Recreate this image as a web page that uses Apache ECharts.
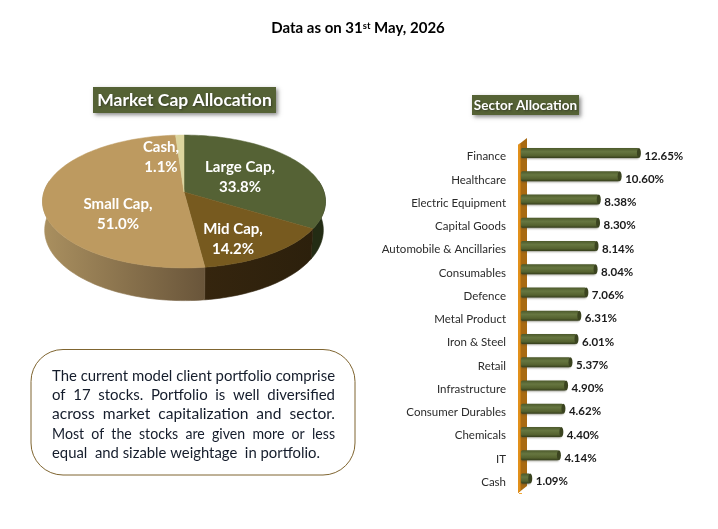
<!DOCTYPE html>
<html>
<head>
<meta charset="utf-8">
<title>Portfolio allocation</title>
<script src="https://cdn.jsdelivr.net/npm/echarts@6/dist/echarts.min.js"></script>
<style>
html,body{margin:0;padding:0;background:#fff}
#chart{width:718px;height:529px}
</style>
</head>
<body>
<div id="chart"></div>
<script>
// Market cap split
const capNames = ['Large Cap', 'Mid Cap', 'Small Cap', 'Cash'];
const capValues = [33.8, 14.2, 51.0, 1.1];

// Sector split, largest first
const sectorNames = ['Finance', 'Healthcare', 'Electric Equipment', 'Capital Goods',
  'Automobile & Ancillaries', 'Consumables', 'Defence', 'Metal Product', 'Iron & Steel',
  'Retail', 'Infrastructure', 'Consumer Durables', 'Chemicals', 'IT', 'Cash'];
const sectorValues = [12.65, 10.60, 8.38, 8.30, 8.14, 8.04, 7.06, 6.31, 6.01,
  5.37, 4.90, 4.62, 4.40, 4.14, 1.09];

// Commentary, one entry per printed line
const noteLines = [
  'The current model client portfolio comprise',
  'of  17  stocks.  Portfolio  is  well  diversified',
  'across  market  capitalization  and  sector.',
  'Most  of  the  stocks  are  given  more  or  less',
  'equal  and sizable weightage  in portfolio.'
];

const FONT = 'Lato, "Open Sans", sans-serif';

// Perspective disc used for the tilted pie
const disc = { cx: 184, cy: 192, a: 140, b: 65.1, p: 0.1429, depth: 28, shrink: 0.985 };
const TAU = Math.PI * 2;

function rimPoint(angle) {
  const u = Math.sin(angle), v = -Math.cos(angle);
  const d = 1 - disc.p * v;
  return [disc.cx + disc.a * u / d, disc.cy + disc.b * v / d];
}
function lowerRimPoint(angle) {
  const v = -Math.cos(angle);
  const top = rimPoint(angle);
  return [disc.cx + (top[0] - disc.cx) * disc.shrink, top[1] + disc.depth / (1 - disc.p * v)];
}
function sampleAngles(from, to) {
  const n = Math.max(2, Math.ceil((to - from) / 0.03));
  const out = [];
  for (let i = 0; i <= n; i++) out.push(from + (to - from) * i / n);
  return out;
}

const capTotal = capValues.reduce((s, v) => s + v, 0);
const capFill = ['#556235', '#775a1f', '#bd9a60', '#dcd59e'];
const capSide = [
  '#232c14',
  { type: 'linear', x: 205, y: 0, x2: 313, y2: 0, global: true,
    colorStops: [{ offset: 0, color: '#35250e' }, { offset: 1, color: '#2c200c' }] },
  { type: 'linear', x: 45, y: 0, x2: 205, y2: 0, global: true,
    colorStops: [{ offset: 0, color: '#a98f5f' }, { offset: 1, color: '#69553a' }] },
  '#a98f5f'
];
const capLabelAt = { 'Large Cap': [240, 177], 'Mid Cap': [233, 239], 'Small Cap': [118, 214], 'Cash': [161, 157] };

function renderSlice(params, api) {
  const i = params.dataIndex;
  let before = 0;
  for (let k = 0; k < i; k++) before += capValues[k];
  const start = before / capTotal * TAU;
  const end = (before + api.value(0)) / capTotal * TAU;
  const kids = [];

  // Wall of the disc, only the near half is ever seen
  const sFrom = Math.max(start, 80 * Math.PI / 180);
  const sTo = Math.min(end, 280 * Math.PI / 180);
  if (sTo > sFrom) {
    const angles = sampleAngles(sFrom, sTo);
    const pts = angles.map(rimPoint).concat(angles.slice().reverse().map(lowerRimPoint));
    kids.push({ type: 'polygon', shape: { points: pts },
      style: { fill: capSide[i], stroke: capSide[i], lineWidth: 0.6 } });
  }
  // Top face
  const face = [[disc.cx, disc.cy]].concat(sampleAngles(start, end).map(rimPoint));
  kids.push({ type: 'polygon', shape: { points: face },
    style: { fill: capFill[i], stroke: capFill[i], lineWidth: 0.5 } });

  const name = capNames[i];
  const at = capLabelAt[name];
  kids.push({
    type: 'text', x: at[0], y: at[1], z2: 10,
    style: {
      text: name + ',\n' + api.value(0).toFixed(1) + '%',
      fill: '#fff', font: 'bold 15px ' + FONT, lineHeight: 19.5,
      align: 'center', verticalAlign: 'middle'
    }
  });
  return { type: 'group', children: kids };
}

const barBody = {
  type: 'linear', x: 0, y: 0, x2: 0, y2: 1,
  colorStops: [
    { offset: 0, color: '#4d5a2c' },
    { offset: 0.35, color: '#667640' },
    { offset: 0.75, color: '#55622f' },
    { offset: 1, color: '#333c1b' }
  ]
};

function renderSectorBar(params, api) {
  const v = api.value(0);
  const head = api.coord([v, api.value(1)]);
  const foot = api.coord([0, api.value(1)]);
  const y = head[1] - 3.5;
  return {
    type: 'group',
    children: [
      { type: 'rect', shape: { x: foot[0] - 1, y: y - 5, width: head[0] - foot[0] - 1, height: 10, r: 1.5 },
        style: { fill: barBody, shadowBlur: 2, shadowColor: 'rgba(70,70,50,0.5)', shadowOffsetY: 1 } },
      { type: 'ellipse', shape: { cx: head[0] - 2, cy: y, rx: 2, ry: 5 }, style: { fill: '#3b4420' } },
      { type: 'text', x: head[0] + 3.5, y: head[1] - 0.6,
        style: { text: v.toFixed(2) + '%', fill: '#1a1a1a', font: 'bold 11.5px ' + FONT, align: 'left', verticalAlign: 'middle' } }
    ]
  };
}

// Fit every justified commentary line to the width of the block
const measure = document.createElement('canvas').getContext('2d');
const noteFont = '15px ' + FONT;
measure.font = noteFont;
const noteLeft = 52, noteWidth = 283, noteTop = 376, noteStep = 19.25;
const noteGraphics = noteLines.map((line, i) => {
  const natural = measure.measureText(line).width;
  const last = i === noteLines.length - 1;
  return {
    type: 'text', x: noteLeft, y: noteTop + i * noteStep,
    scaleX: last ? 268 / natural : noteWidth / natural,
    style: { text: line, font: noteFont, fill: '#141c2b', align: 'left', verticalAlign: 'middle' }
  };
});

function titleBox(x, y, w, h, text, size) {
  return [
    { type: 'rect', shape: { x, y, width: w, height: h },
      style: { fill: '#556235', shadowBlur: 4, shadowOffsetX: 2, shadowOffsetY: 2, shadowColor: 'rgba(90,90,90,0.7)' } },
    { type: 'text', x: x + w / 2, y: y + h / 2 + 0.5,
      style: { text, fill: '#fff', font: 'bold ' + size + 'px ' + FONT, align: 'center', verticalAlign: 'middle',
        textShadowBlur: 2, textShadowColor: 'rgba(30,30,30,0.5)', textShadowOffsetX: 1, textShadowOffsetY: 1 } }
  ];
}

const chart = echarts.init(document.getElementById('chart'), null, { renderer: 'canvas' });
chart.setOption({
  backgroundColor: '#fff',
  animation: false,
  grid: { left: 522, top: 145, width: 141, height: 348.7 },
  xAxis: { type: 'value', min: 0, max: 15, show: false },
  yAxis: {
    type: 'category', data: sectorNames, inverse: true, offset: 4,
    axisLine: { show: false },
    axisTick: { show: true, length: 3, lineStyle: { color: '#f2a93b', width: 1 } },
    axisLabel: { margin: 12, color: '#2b2b2b', fontFamily: FONT, fontSize: 11.5, interval: 0, padding: [4, 0, 0, 0] },
    splitLine: { show: false }
  },
  graphic: [
    { type: 'text', x: 358, y: 28,
      style: {
        text: '{m|Data as on 31}{s|st}{m| May, 2026}',
        align: 'center', verticalAlign: 'middle',
        rich: {
          m: { font: 'bold 15px ' + FONT, fill: '#000', verticalAlign: 'bottom' },
          s: { font: 'bold 9.5px ' + FONT, fill: '#000', verticalAlign: 'top' }
        }
      } },
    ...titleBox(93, 87, 183, 26, 'Market Cap Allocation', 17.5),
    ...titleBox(472, 95, 107, 20, 'Sector Allocation', 13.5),
    // Rounded frame behind the commentary
    { type: 'rect', shape: { x: 31, y: 349.5, width: 324, height: 125.5, r: 32 },
      style: { fill: '#fff', stroke: '#7f6530', lineWidth: 1 } },
    ...noteGraphics.map(g => Object.assign(g, { z: 5 })),
    // Wall the sector bars stand on
    { type: 'polygon', shape: { points: [[518, 145], [527, 138], [527, 486], [518, 493]] }, style: { fill: '#a86a12' }, z: 1 },
    { type: 'polygon', shape: { points: [[518, 145], [520.5, 143], [520.5, 491], [518, 493]] }, style: { fill: '#e2901a' }, z: 1 }
  ],
  series: [
    {
      type: 'custom', coordinateSystem: 'none', renderItem: renderSlice, silent: true,
      data: capValues.map(v => [v])
    },
    {
      type: 'custom', renderItem: renderSectorBar, silent: true, z: 3, clip: false,
      encode: { x: 0, y: 1 },
      data: sectorValues.map((v, i) => [v, i])
    }
  ]
});
</script>
</body>
</html>
